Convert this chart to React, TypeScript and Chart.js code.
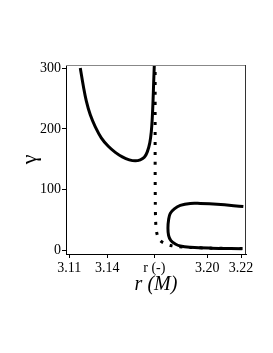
import React, { useEffect, useRef } from "react";
import { Chart, registerables } from "chart.js";

Chart.register(...registerables);

// x tick positions (axis units) and their printed labels
const xTickValues = [3.11, 3.1343, 3.1645, 3.1984, 3.22];
const xTickLabels = ["3.11", "3.14", "r (-)", "3.20", "3.22"];
const yTickValues = [0, 100, 200, 300];

// left solid branch
const leftR = [3.11705, 3.11897, 3.12089, 3.12345, 3.12666, 3.1305, 3.13499, 3.13947, 3.14396, 3.14844, 3.15228, 3.15549, 3.15805, 3.15997, 3.16157, 3.16253, 3.16317, 3.16368, 3.16407, 3.16445, 3.16458];
const leftG = [300, 270.9, 246.2, 223.2, 203.5, 185.4, 171.4, 161.5, 154.1, 149.2, 147.5, 149.2, 153.3, 162.3, 177.1, 195.2, 218.3, 247.9, 277.5, 303.8, 313.6];

// right solid C-shaped branch
const rightR = [3.2215, 3.2046, 3.1939, 3.1875, 3.1811, 3.1773, 3.1747, 3.1736, 3.1732, 3.1736, 3.175, 3.1779, 3.1811, 3.1875, 3.2003, 3.2208];
const rightG = [72.4, 76.3, 77.6, 77.6, 74.3, 68.6, 61.2, 50.5, 37.3, 25, 16.8, 11, 7.7, 5.6, 4.1, 3.1];

// dotted curve
const dotR = [3.165, 3.165, 3.1651, 3.1653, 3.1657, 3.1666, 3.1685, 3.1715, 3.175, 3.179, 3.1875, 3.2003, 3.221];
const dotG = [310, 150, 80, 50, 35, 24, 16, 11.5, 8.5, 6.8, 5.3, 4.2, 3.4];

const zip = (xs: number[], ys: number[]) => xs.map((x, i) => ({ x, y: ys[i] }));

const FONT = "'Liberation Serif', 'Times New Roman', serif";

export default function App() {
  const ref = useRef<HTMLCanvasElement | null>(null);

  useEffect(() => {
    if (!ref.current) return;
    const framePlugin = {
      id: "frame",
      afterDatasetsDraw(chart: any) {
        const { ctx, chartArea: a } = chart;
        ctx.save();
        ctx.lineWidth = 1;
        ctx.strokeStyle = "#888888";
        ctx.beginPath();
        ctx.moveTo(a.left, a.top + 0.5);
        ctx.lineTo(a.right, a.top + 0.5);
        ctx.stroke();
        ctx.strokeStyle = "#333333";
        ctx.beginPath();
        ctx.moveTo(a.right - 0.5, a.top);
        ctx.lineTo(a.right - 0.5, a.bottom);
        ctx.stroke();
        ctx.restore();
      },
    };
    const chart = new Chart(ref.current, {
      type: "scatter",
      data: {
        datasets: [
          {
            data: zip(dotR, dotG),
            showLine: true,
            borderColor: "#000",
            borderWidth: 3,
            borderDash: [3, 7],
            borderCapStyle: "butt",
            pointRadius: 0,
            tension: 0.3,
            clip: 0,
          },
          {
            data: zip(leftR, leftG),
            showLine: true,
            borderColor: "#000",
            borderWidth: 3,
            pointRadius: 0,
            tension: 0.4,
            clip: 0,
          },
          {
            data: zip(rightR, rightG),
            showLine: true,
            borderColor: "#000",
            borderWidth: 3,
            pointRadius: 0,
            tension: 0.4,
            clip: 0,
          },
        ],
      } as any,
      options: {
        animation: false,
        responsive: false,
        layout: { padding: { top: 65, right: 27, left: 0, bottom: 0 } },
        plugins: { legend: { display: false }, tooltip: { enabled: false } },
        scales: {
          x: {
            type: "linear",
            min: 3.1079,
            max: 3.2232,
            afterFit: (s: any) => {
              s.height = 99;
            },
            afterBuildTicks: (s: any) => {
              s.ticks = xTickValues.map((v) => ({ value: v }));
            },
            ticks: {
              autoSkip: false,
              maxRotation: 0,
              padding: 2,
              color: "#000",
              font: { family: FONT, size: 14 },
              callback: (v: any) => {
                const i = xTickValues.findIndex((t) => Math.abs(t - Number(v)) < 1e-6);
                return i >= 0 ? xTickLabels[i] : "";
              },
            },
            grid: { drawOnChartArea: false, tickLength: 4, tickColor: "#000" },
            border: { display: true, color: "#000", width: 1 },
            title: {
              display: true,
              text: "r (M)",
              color: "#000",
              font: { family: FONT, size: 20, style: "italic" },
              padding: { top: 0, bottom: 56 },
            },
          },
          y: {
            type: "linear",
            min: -5.5,
            max: 305,
            afterFit: (s: any) => {
              s.width = 66;
            },
            afterBuildTicks: (s: any) => {
              s.ticks = yTickValues.map((v) => ({ value: v }));
            },
            ticks: {
              padding: 1,
              color: "#000",
              font: { family: FONT, size: 14 },
            },
            grid: { drawOnChartArea: false, tickLength: 4, tickColor: "#000" },
            border: { display: true, color: "#000", width: 1 },
            title: {
              display: true,
              text: "γ",
              color: "#000",
              font: { family: FONT, size: 22 },
              padding: { top: 17, bottom: 0 },
            },
          },
        },
      } as any,
      plugins: [framePlugin],
    });
    return () => chart.destroy();
  }, []);

  return (
    <div style={{ position: "fixed", left: 0, top: 0, width: 273, height: 353, background: "#fff" }}>
      <canvas ref={ref} width={273} height={353} style={{ width: 273, height: 353 }} />
    </div>
  );
}
